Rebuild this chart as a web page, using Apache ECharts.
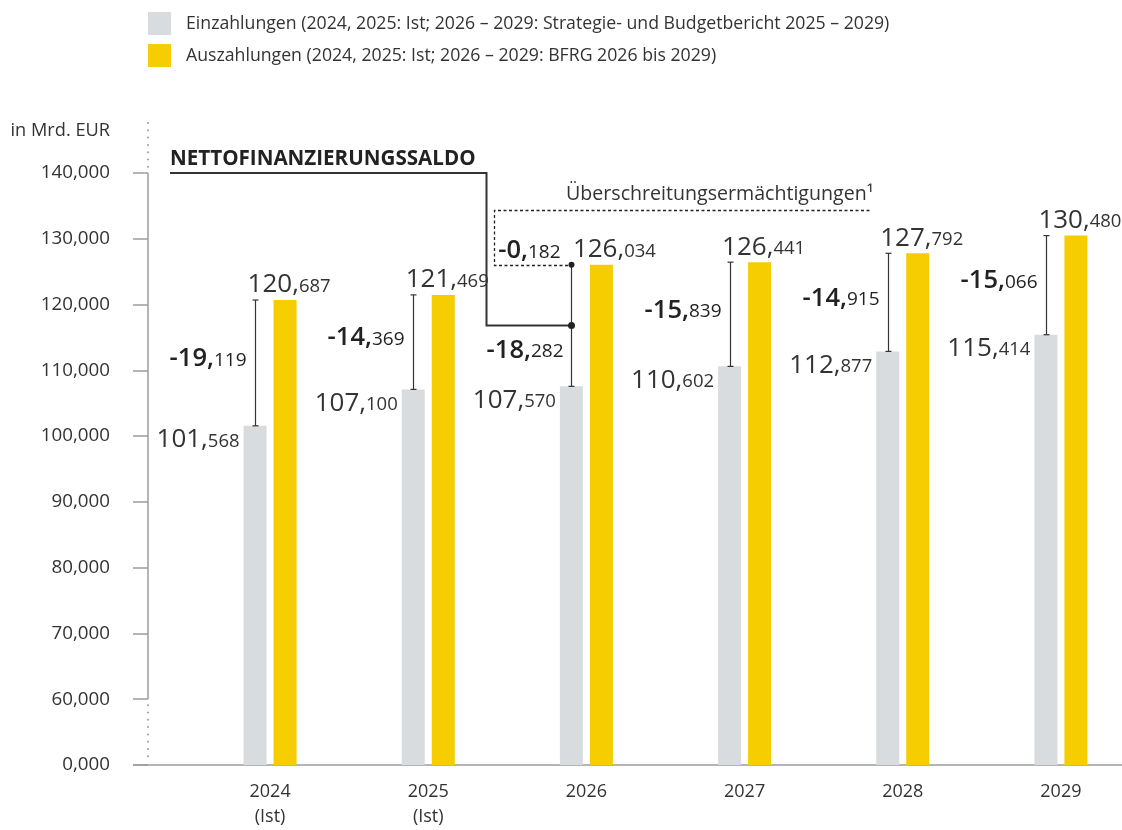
<!DOCTYPE html>
<html><head><meta charset="utf-8">
<script src="https://cdn.jsdelivr.net/npm/echarts@6/dist/echarts.min.js"></script>
<style>html,body{margin:0;padding:0;background:#fff}#c{width:1122px;height:830px}</style>
</head><body><div id="c"></div>
<script>
// Data (Mio. EUR)
const categories = ['2024\n(Ist)', '2025\n(Ist)', '2026', '2027', '2028', '2029'];
const einzahlungen = [101568, 107100, 107570, 110602, 112877, 115414];
const auszahlungen = [120687, 121469, 126034, 126441, 127792, 130480];
const ueberschreitung = [0, 0, 182, 0, 0, 0];
const yTickValues = [50000, 60000, 70000, 80000, 90000, 100000, 110000, 120000, 130000, 140000];
const yTickLabels = ['0,000', '60,000', '70,000', '80,000', '90,000', '100,000', '110,000', '120,000', '130,000', '140,000'];
const nameEin = 'Einzahlungen (2024, 2025: Ist; 2026 – 2029: Strategie- und Budgetbericht 2025 – 2029)';
const nameAus = 'Auszahlungen (2024, 2025: Ist; 2026 – 2029: BFRG 2026 bis 2029)';

// Styles / layout
const FONT = 'Open Sans';
const TXT = '#333333';
const AXIS = '#9d9d9d';
const GRAY = '#d9dcde';
const YELLOW = '#f5cd00';
const GRID_LEFT = 191, GRID_RIGHT = -18, GRID_TOP = 173, GRID_BOTTOM = 65;
const Y_OFFSET = 43;
const BAR_W = 23, BAR_GAP_PX = 7;
const WHISKER_SHIFT = -(BAR_W + BAR_GAP_PX) / 2;

function split(v) {
  const m = Math.round(v);
  const s = m < 0 ? '-' : '';
  const a = Math.abs(m);
  return [s + Math.floor(a / 1000), String(a % 1000).padStart(3, '0')];
}
const richNum = {
  a: { fontFamily: FONT, fontSize: 26, color: TXT, verticalAlign: 'bottom' },
  b: { fontFamily: FONT, fontSize: 18.5, color: TXT, verticalAlign: 'bottom', padding: [0, 0, 2, 0] }
};
const numFmt = v => { const p = split(v); return '{a|' + p[0] + ',}{b|' + p[1] + '}'; };
const diffRich = {
  a: { fontFamily: FONT, fontSize: 25.5, fontWeight: 600, fill: '#222', verticalAlign: 'bottom' },
  b: { fontFamily: FONT, fontSize: 19, fill: '#222', verticalAlign: 'bottom', padding: [0, 0, 2, 0] }
};

const chart = echarts.init(document.getElementById('c'), null, { renderer: 'canvas' });

const option = {
  animation: false,
  backgroundColor: '#fff',
  textStyle: { fontFamily: FONT },
  legend: {
    left: 148, top: 12, orient: 'vertical', padding: 0,
    itemWidth: 23, itemHeight: 23, itemGap: 9, icon: 'rect',
    data: [nameEin, nameAus],
    textStyle: { fontFamily: FONT, fontSize: 17.7, color: TXT, padding: [0, 0, 0, 10] },
    selectedMode: false
  },
  grid: { left: GRID_LEFT, right: GRID_RIGHT, top: GRID_TOP, bottom: GRID_BOTTOM, containLabel: false, outerBoundsMode: 'none' },
  xAxis: {
    type: 'category', data: categories,
    axisLine: { show: false }, axisTick: { show: false },
    axisLabel: { interval: 0, fontFamily: FONT, fontSize: 18, color: TXT, lineHeight: 25, margin: 14 }
  },
  yAxis: {
    type: 'value', min: yTickValues[0], max: yTickValues[yTickValues.length - 1], interval: 10000,
    offset: Y_OFFSET,
    axisLine: { show: false },
    axisTick: { show: true, length: 15, lineStyle: { color: AXIS, width: 1.5 } },
    splitLine: { show: false },
    axisLabel: {
      margin: 38, fontFamily: FONT, fontSize: 18.8, color: TXT,
      formatter: v => { const k = yTickValues.indexOf(v); return k >= 0 ? yTickLabels[k] : ''; }
    }
  },
  series: [
    {
      name: nameEin, type: 'bar', data: einzahlungen, barWidth: BAR_W, barGap: (BAR_GAP_PX / BAR_W * 100) + '%',
      itemStyle: { color: GRAY }, clip: true,
      label: { show: true, position: [-4, 14], align: 'right', verticalAlign: 'middle', formatter: p => numFmt(p.value), rich: richNum }
    },
    {
      name: nameAus, type: 'bar', barWidth: BAR_W,
      data: auszahlungen.map((v, i) => ueberschreitung[i] > 0 ? { value: v, label: { offset: [13, 0] } } : v),
      itemStyle: { color: YELLOW }, clip: true,
      label: { show: true, position: 'top', distance: 2, offset: [4, 0], formatter: p => numFmt(p.value), rich: richNum }
    },
    {
      type: 'custom', z: 5, clip: false,
      data: categories.map((c, i) => [i, einzahlungen[i], auszahlungen[i], ueberschreitung[i]]),
      encode: { x: 0, y: [1, 2] },
      renderItem: (params, api) => {
        const i = api.value(0), ein = api.value(1), aus = api.value(2), ue = api.value(3);
        const pb = api.coord([i, ein]), pt = api.coord([i, aus]);
        const x = Math.round(pb[0] + WHISKER_SHIFT) + 0.5, yb = pb[1], yt = pt[1], ym = (yb + yt) / 2;
        const ls = { stroke: '#333', lineWidth: 1.2 };
        const ch = [
          { type: 'line', shape: { x1: x, y1: yb, x2: x, y2: yt }, style: ls },
          { type: 'line', shape: { x1: x - 3, y1: yb, x2: x + 3, y2: yb }, style: ls }
        ];
        const txt = (v, tx, ty) => {
          const p = split(v);
          return { type: 'text', style: { text: '{a|' + p[0] + ',}{b|' + p[1] + '}', rich: diffRich, x: tx, y: ty, align: 'right', verticalAlign: 'middle' } };
        };
        if (ue > 0) {
          ch.push({ type: 'circle', shape: { cx: x, cy: yt, r: 3 }, style: { fill: '#222' } });
          ch.push({ type: 'circle', shape: { cx: x, cy: ym, r: 3.5 }, style: { fill: '#222' } });
          ch.push(txt(ein - aus + ue, x - 8, ym + 25));
          ch.push(txt(-ue, x - 11, yt - 14));
        } else {
          ch.push({ type: 'line', shape: { x1: x - 3, y1: yt, x2: x + 3, y2: yt }, style: ls });
          ch.push(txt(ein - aus, x - 9, ym - 4));
        }
        return { type: 'group', children: ch };
      }
    }
  ]
};
chart.setOption(option);

// Annotations positioned from the axes
const px = (i, v) => chart.convertToPixel({ gridIndex: 0 }, [i, v]);
const axisX = GRID_LEFT - Y_OFFSET;
const y0 = px(0, yTickValues[0])[1];
const y60 = px(0, yTickValues[1])[1];
const yTop = px(0, yTickValues[yTickValues.length - 1])[1];
const k = ueberschreitung.findIndex(v => v > 0);
const wb = px(k, einzahlungen[k]), wt = px(k, auszahlungen[k]);
const wx = Math.round(wb[0] + WHISKER_SHIFT) + 0.5, wym = (wb[1] + wt[1]) / 2, wyt = wt[1];
const dot = { stroke: AXIS, lineWidth: 2, lineDash: [0, 7.3], lineCap: 'round' };
const bx = Math.round(wx - 78) + 0.5, by = Math.round(wyt - 55) + 0.5, byb = Math.round(wyt) + 0.5;

chart.setOption({
  graphic: [
    { type: 'line', silent: true, shape: { x1: axisX, y1: y60, x2: axisX, y2: yTop }, style: { stroke: AXIS, lineWidth: 1.5 } },
    { type: 'line', silent: true, shape: { x1: axisX - 15, y1: y0, x2: 1122, y2: y0 }, style: { stroke: AXIS, lineWidth: 1.5 } },
    { type: 'line', silent: true, shape: { x1: axisX, y1: yTop - 50, x2: axisX, y2: yTop - 5 }, style: dot },
    { type: 'line', silent: true, shape: { x1: axisX, y1: y60 + 6, x2: axisX, y2: y0 - 6 }, style: dot },
    { type: 'text', silent: true, style: { text: 'in Mrd. EUR', x: 110, y: yTop - 42, align: 'right', verticalAlign: 'middle', fontFamily: FONT, fontSize: 18.2, fill: TXT } },
    { type: 'text', silent: true, style: { text: 'NETTOFINANZIERUNGSSALDO', x: 170, y: yTop - 14, align: 'left', verticalAlign: 'middle', fontFamily: FONT, fontSize: 20.6, fontWeight: 'bold', fill: '#222' } },
    { type: 'polyline', silent: true, shape: { points: [[170, yTop], [wx - 85, yTop], [wx - 85, wym], [wx, wym]] }, style: { stroke: '#333', lineWidth: 2, fill: null } },
    { type: 'polyline', silent: true, shape: { points: [[wx + 298, by], [bx, by], [bx, byb], [wx - 3, byb]] }, style: { stroke: '#222', lineWidth: 1.3, lineDash: [3, 2.5], fill: null } },
    { type: 'text', silent: true, style: { text: 'Überschreitungsermächtigungen¹', x: wx + 302, y: wyt - 70, align: 'right', verticalAlign: 'middle', fontFamily: FONT, fontSize: 19.6, fill: TXT } }
  ]
});
</script></body></html>
